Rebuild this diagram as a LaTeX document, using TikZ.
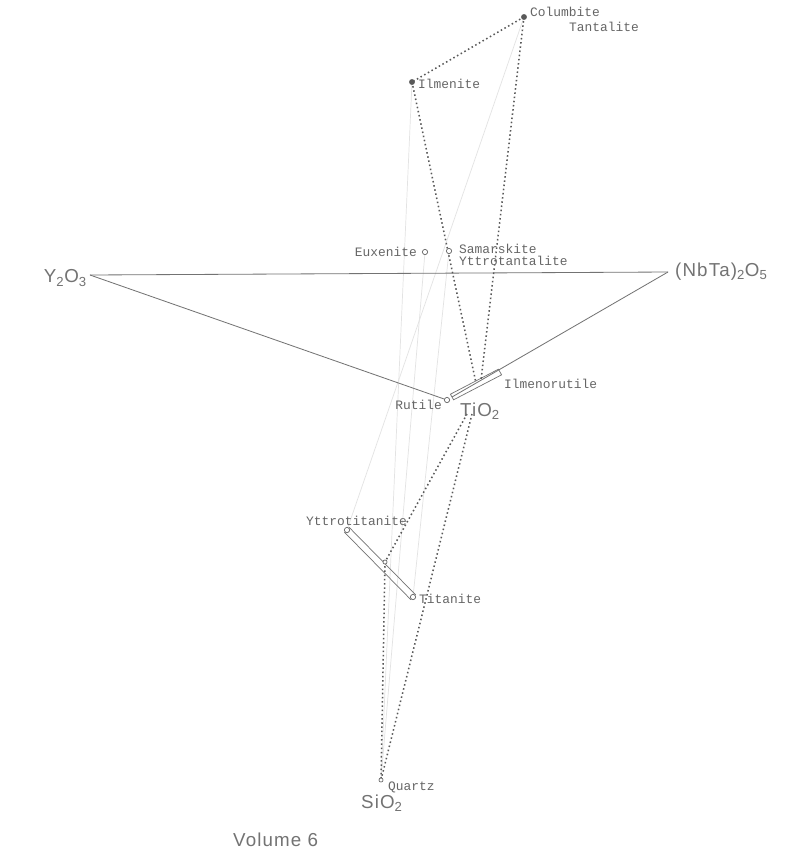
\documentclass[tikz,border=0pt]{standalone}
\usepackage{fontspec}
\usetikzlibrary{calc}
\setmainfont{Liberation Sans}
\newfontfamily\lblfont{Liberation Mono}
\newfontfamily\bigfont[LetterSpace=6]{Liberation Sans}
\begin{document}
\begin{tikzpicture}[x=0.03cm,y=-0.03cm,
  lbl/.style={font=\lblfont\fontsize{11}{12}\selectfont, text=black!60, inner sep=0pt},
  big/.style={font=\bigfont\fontsize{16}{17}\selectfont, text=black!55, inner sep=0pt},
  solidln/.style={draw=black!55, line width=0.7pt},
  dotln/.style={draw=black!65, line width=1.3pt, dash pattern=on 1.3pt off 2.3pt},
  faintln/.style={draw=black!11, line width=0.6pt},
  opendot/.style={circle, draw=black!60, fill=white, line width=0.6pt, minimum size=4.5pt, inner sep=0pt},
  filldot/.style={circle, fill=black!65, minimum size=5pt, inner sep=0pt},
  barln/.style={draw=black!55, line width=0.6pt}]
\fill[white] (0,0) rectangle (800,861);
\useasboundingbox (0,0) rectangle (800,861);

% points
\coordinate (col) at (524,17);
\coordinate (ilm) at (412,82);
\coordinate (eux) at (425,252);
\coordinate (sam) at (449,251);
\coordinate (y2o3) at (90,275);
\coordinate (nbta) at (668,272);
\coordinate (rut) at (447,400);
\coordinate (ir1) at (452,397);
\coordinate (ir2) at (500,372);
\coordinate (irA) at (476,383);
\coordinate (irB) at (481,380);
\coordinate (tiA) at (467,414);
\coordinate (tiB) at (472,414);
\coordinate (ytt) at (347,530);
\coordinate (tit) at (413,597);
\coordinate (mid) at (385,562);
\coordinate (qtz) at (381,780);

% faint lines
\draw[faintln] (col) -- (ytt);
\draw[faintln] (eux) -- (qtz);
\draw[faintln] (sam) -- (tit);
\draw[faintln] (ilm) -- (qtz);

% solid triangle
\draw[solidln] (y2o3) -- (nbta);
\draw[solidln] (y2o3) -- (rut);
\draw[solidln] (nbta) -- (ir1);

% ilmenorutile bar
\draw[barln] ($(ir1)+(-1.6,-2.8)$) -- ($(ir2)+(-1.6,-2.8)$) -- ($(ir2)+(1.6,2.8)$) -- ($(ir1)+(1.6,2.8)$) -- cycle;

% yttrotitanite-titanite bar
\draw[barln] ($(ytt)+(2.4,-2.4)$) -- ($(tit)+(2.4,-2.4)$) -- ($(tit)+(-2.4,2.4)$) -- ($(ytt)+(-2.4,2.4)$) -- cycle;

% dotted lines
\draw[dotln] (col) -- (ilm);
\draw[dotln] (ilm) -- (irA);
\draw[dotln] (col) -- (irB);
\draw[dotln] (tiA) -- (mid);
\draw[dotln] (mid) -- (qtz);
\draw[dotln] (tiB) -- (qtz);

% markers
\node[filldot] (colm) at (col) {};
\node[filldot] (ilmm) at (ilm) {};
\node[opendot] (euxm) at (eux) {};
\node[opendot] (samm) at (sam) {};
\node[opendot] (rutm) at (rut) {};
\node[opendot] (yttm) at (ytt) {};
\node[opendot] (titm) at (tit) {};
\node[opendot, minimum size=3.5pt] (midm) at (mid) {};
\node[opendot, minimum size=3.5pt] (qtzm) at (qtz) {};

% labels
\node[lbl, anchor=west] (tcol) at (530,12) {Columbite};
\node[lbl, anchor=west] (ttan) at (569,27) {Tantalite};
\node[lbl, anchor=west] (tilm) at (418,84) {Ilmenite};
\node[lbl, anchor=east] (teux) at (417,252) {Euxenite};
\node[lbl, anchor=west] (tsam) at (459,249) {Samarskite};
\node[lbl, anchor=west] (tytt) at (459,261) {Yttrotantalite};
\node[lbl, anchor=west] (tilr) at (504,384) {Ilmenorutile};
\node[lbl, anchor=east] (trut) at (442,405) {Rutile};
\node[lbl, anchor=west] (tyti) at (306,521) {Yttrotitanite};
\node[lbl, anchor=west] (ttit) at (419,599) {Titanite};
\node[lbl, anchor=west] (tqtz) at (388,787) {Quartz};

\node[big, anchor=east] (ty2o3) at (87,278) {Y\textsubscript{2}O\textsubscript{3}};
\node[big, anchor=west] (tnbta) at (675,272) {(NbTa)\textsubscript{2}O\textsubscript{5}};
\node[big, anchor=west] (ttio2) at (460,411) {TiO\textsubscript{2}};
\node[big, anchor=west] (tsio2) at (361,803) {SiO\textsubscript{2}};
\node[big, anchor=west] (tvol) at (233,840) {Volume 6};
\end{tikzpicture}
\end{document}
